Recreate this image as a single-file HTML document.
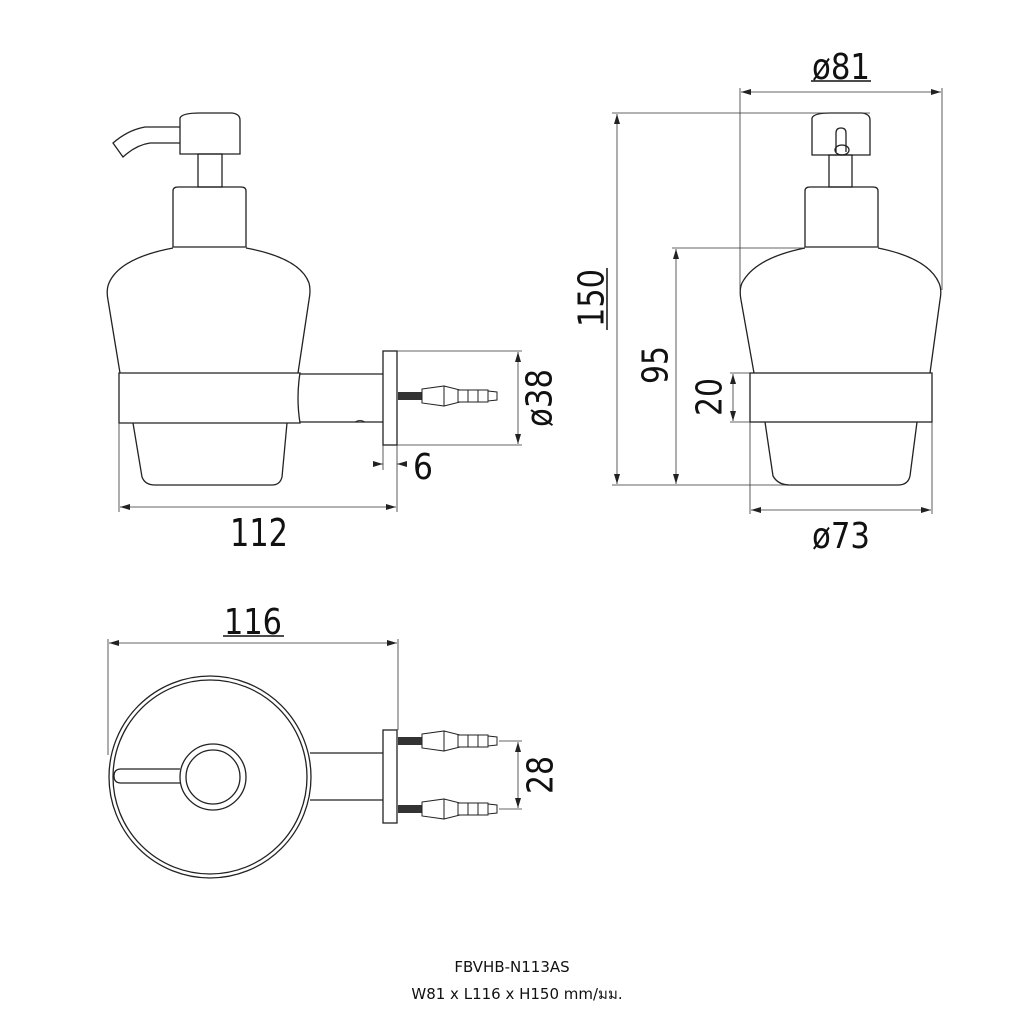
<!DOCTYPE html>
<html><head><meta charset="utf-8"><style>
html,body{margin:0;padding:0;background:#fff;}
svg{display:block;}
text{font-family:"DejaVu Sans","Liberation Sans",sans-serif;fill:#111;}
</style></head><body>
<svg width="1024" height="1024" viewBox="0 0 1024 1024" xmlns="http://www.w3.org/2000/svg">
<defs>
<marker id="a" viewBox="0 0 10 6" refX="10" refY="3" markerWidth="10" markerHeight="6" orient="auto-start-reverse" markerUnits="userSpaceOnUse"><path d="M0,0 L10,3 L0,6 z" fill="#222"/></marker>
<g id="anch">
<rect x="398" y="-4" width="24" height="8" fill="#333"/>
<path d="M422,-7 L444,-10 L444,10 L422,7 Z" fill="#fff" stroke="#222" stroke-width="1"/>
<path d="M444,-10 L460,-6 L460,6 L444,10" fill="none" stroke="#222" stroke-width="1"/>
<path d="M458,-6 h10 v12 h-10 z M468,-6 h10 v12 h-10 z M478,-6 h10 v12 h-10 z M488,-5 l9,1 v8 l-9,1 z" fill="#fff" stroke="#222" stroke-width="1"/>
</g>
</defs>
<g fill="none" stroke="#222" stroke-width="1.3">
<!-- LEFT SIDE VIEW -->
<path d="M180,127 L145,127 Q128,130 113,143 L123,157 Q136,145 150,143 L180,143"/>
<path d="M180,154 L180,118 Q182,113 200,113 L232,113 Q240,114 240,120 L240,154 Z"/>
<rect x="198" y="154" width="24" height="33"/>
<path d="M173,247 L173,191 Q173,187 178,187 L241,187 Q246,187 246,191 L246,247 Z"/>
<path d="M173,248 Q120,258 109,283 Q106,290 108,300 L120,373 M246,248 Q300,258 309,283 Q311,290 309,300 L298,373"/>
<path d="M119,373 L300,373 Q296,398 300,423 L119,423 Z"/>
<path d="M133,423 L142,477 Q145,485 155,485 L272,485 Q280,485 282,477 L287,423"/>
<line x1="300" y1="374" x2="383" y2="374"/>
<line x1="300" y1="422" x2="383" y2="422"/>
<path d="M355,422 q5,-3 10,0" stroke-width="1"/>
<rect x="383" y="351" width="14" height="94"/>
</g>
<use href="#anch" transform="translate(0,396)"/>
<g fill="none" stroke="#333" stroke-width="0.8">
<line x1="397" y1="351" x2="522" y2="351"/><line x1="397" y1="445" x2="522" y2="445"/>
<line x1="518" y1="352" x2="518" y2="444" marker-start="url(#a)" marker-end="url(#a)"/>
<line x1="383" y1="445" x2="383" y2="470"/><line x1="397" y1="445" x2="397" y2="512"/>
<line x1="373" y1="464" x2="383" y2="464" marker-end="url(#a)"/>
<line x1="407" y1="464" x2="397" y2="464" marker-end="url(#a)"/>
<line x1="119" y1="423" x2="119" y2="512"/>
<line x1="120" y1="507" x2="396" y2="507" marker-start="url(#a)" marker-end="url(#a)"/>
</g>
<text x="540" y="398" font-size="36" text-anchor="middle" dominant-baseline="central" transform="rotate(-90 540 398)" textLength="58" lengthAdjust="spacingAndGlyphs">ø38</text>
<text x="423" y="479" font-size="36" text-anchor="middle" textLength="20" lengthAdjust="spacingAndGlyphs">6</text>
<text x="259" y="546" font-size="38" text-anchor="middle" textLength="58" lengthAdjust="spacingAndGlyphs">112</text>

<!-- RIGHT FRONT VIEW -->
<g fill="none" stroke="#222" stroke-width="1.3">
<path d="M812,155 L812,118 Q814,113 830,113 L862,113 Q870,114 870,120 L870,155 Z"/>
<path d="M836,152 L836,133 Q836,128 841,128 Q846,128 846,133 L846,152"/>
<ellipse cx="842" cy="150" rx="7" ry="5"/>
<rect x="829" y="155" width="23" height="32"/>
<path d="M805,247 L805,191 Q805,187 810,187 L873,187 Q878,187 878,191 L878,247 Z"/>
<path d="M805,248 Q755,258 742,283 Q739,290 741,300 L754,373 M878,248 Q928,258 939,283 Q942,290 940,300 L930,373"/>
<rect x="750" y="373" width="182" height="49"/>
<path d="M765,422 L773,476 Q778,485 790,485 L898,485 Q908,485 910,476 L917,422"/>
</g>
<g fill="none" stroke="#333" stroke-width="0.8">
<line x1="740" y1="88" x2="740" y2="290"/><line x1="942" y1="88" x2="942" y2="290"/>
<line x1="741" y1="92" x2="941" y2="92" marker-start="url(#a)" marker-end="url(#a)"/>
<line x1="612" y1="113" x2="870" y2="113"/><line x1="612" y1="485" x2="790" y2="485"/>
<line x1="617" y1="114" x2="617" y2="484" marker-start="url(#a)" marker-end="url(#a)"/>
<line x1="672" y1="248" x2="805" y2="248"/>
<line x1="676" y1="249" x2="676" y2="484" marker-start="url(#a)" marker-end="url(#a)"/>
<line x1="730" y1="373" x2="750" y2="373"/><line x1="730" y1="422" x2="750" y2="422"/>
<line x1="733" y1="374" x2="733" y2="421" marker-start="url(#a)" marker-end="url(#a)"/>
<line x1="750" y1="422" x2="750" y2="514"/><line x1="932" y1="422" x2="932" y2="514"/>
<line x1="751" y1="510" x2="931" y2="510" marker-start="url(#a)" marker-end="url(#a)"/>
</g>
<text x="841" y="79" font-size="36" text-anchor="middle" textLength="58" lengthAdjust="spacingAndGlyphs">ø81</text>
<line x1="811" y1="81" x2="871" y2="81" stroke="#111" stroke-width="1.5"/>
<text x="592" y="298" font-size="36" text-anchor="middle" dominant-baseline="central" transform="rotate(-90 592 298)" textLength="58" lengthAdjust="spacingAndGlyphs">150</text>
<line x1="607" y1="268" x2="607" y2="330" stroke="#111" stroke-width="1.5"/>
<text x="656" y="365" font-size="36" text-anchor="middle" dominant-baseline="central" transform="rotate(-90 656 365)" textLength="38" lengthAdjust="spacingAndGlyphs">95</text>
<text x="710" y="397" font-size="36" text-anchor="middle" dominant-baseline="central" transform="rotate(-90 710 397)" textLength="38" lengthAdjust="spacingAndGlyphs">20</text>
<text x="841" y="548" font-size="36" text-anchor="middle" textLength="58" lengthAdjust="spacingAndGlyphs">ø73</text>

<!-- BOTTOM TOP VIEW -->
<g fill="none" stroke="#222" stroke-width="1.3">
<circle cx="210" cy="777" r="101"/>
<circle cx="210" cy="777" r="97"/>
<circle cx="213" cy="777" r="33"/>
<circle cx="213" cy="777" r="27"/>
<path d="M180,769 L121,769 Q114,769 114,776 Q114,783 121,783 L180,783"/>
<line x1="310" y1="753" x2="383" y2="753"/><line x1="310" y1="800" x2="383" y2="800"/>
<rect x="383" y="730" width="14" height="93"/>
</g>
<use href="#anch" transform="translate(0,741)"/>
<use href="#anch" transform="translate(0,809)"/>
<g fill="none" stroke="#333" stroke-width="0.8">
<line x1="108" y1="639" x2="108" y2="755"/><line x1="398" y1="639" x2="398" y2="730"/>
<line x1="109" y1="643" x2="397" y2="643" marker-start="url(#a)" marker-end="url(#a)"/>
<line x1="499" y1="741" x2="522" y2="741"/><line x1="499" y1="809" x2="522" y2="809"/>
<line x1="518" y1="742" x2="518" y2="808" marker-start="url(#a)" marker-end="url(#a)"/>
</g>
<text x="253" y="634" font-size="36" text-anchor="middle" textLength="58" lengthAdjust="spacingAndGlyphs">116</text>
<line x1="223" y1="636" x2="284" y2="636" stroke="#111" stroke-width="1.5"/>
<text x="541" y="775" font-size="36" text-anchor="middle" dominant-baseline="central" transform="rotate(-90 541 775)" textLength="38" lengthAdjust="spacingAndGlyphs">28</text>

<text x="512" y="972" font-size="15" text-anchor="middle">FBVHB-N113AS</text>
<text x="517" y="999" font-size="15" text-anchor="middle">W81 x L116 x H150 mm/มม.</text>
</svg>
</body></html>
